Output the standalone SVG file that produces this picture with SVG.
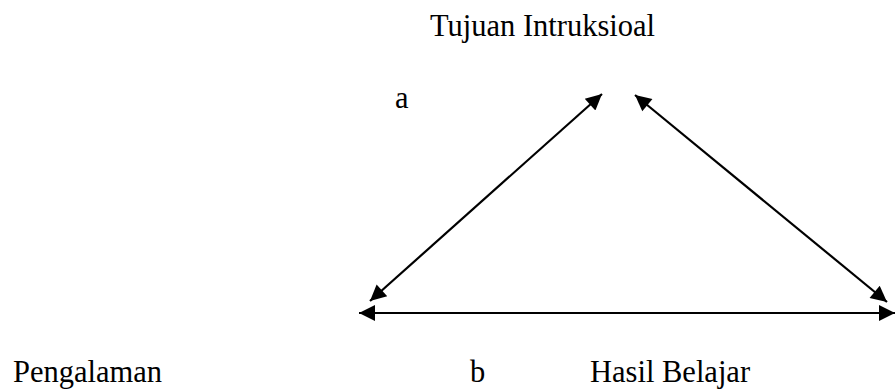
<svg xmlns="http://www.w3.org/2000/svg" width="895" height="391" viewBox="0 0 895 391">
<style>
text{font-family:"Liberation Serif","Times New Roman",serif;font-size:30.5px;fill:#000}
.ln{stroke:#000;stroke-width:2.2;fill:none}
</style>
<defs>
<marker id="ah" viewBox="0 0 10 10" refX="10" refY="5" markerWidth="20" markerHeight="16" markerUnits="userSpaceOnUse" orient="auto-start-reverse">
<path d="M0,0 L10,5 L0,10 z" fill="#000"/>
</marker>
</defs>
<g id="node-tujuan"><text x="430" y="36">Tujuan Intruksioal</text></g>
<g id="node-a"><text x="395" y="108">a</text></g>
<g id="node-pengalaman"><text x="13" y="382">Pengalaman</text></g>
<g id="node-b"><text x="470" y="382">b</text></g>
<g id="node-hasil"><text x="590" y="382">Hasil Belajar</text></g>
<g id="connectors">
<line class="ln" x1="370" y1="301" x2="602" y2="94" marker-start="url(#ah)" marker-end="url(#ah)"/>
<line class="ln" x1="635" y1="95" x2="887" y2="302" marker-start="url(#ah)" marker-end="url(#ah)"/>
<line class="ln" x1="359" y1="313" x2="895" y2="313" marker-start="url(#ah)" marker-end="url(#ah)"/>
</g>
</svg>
